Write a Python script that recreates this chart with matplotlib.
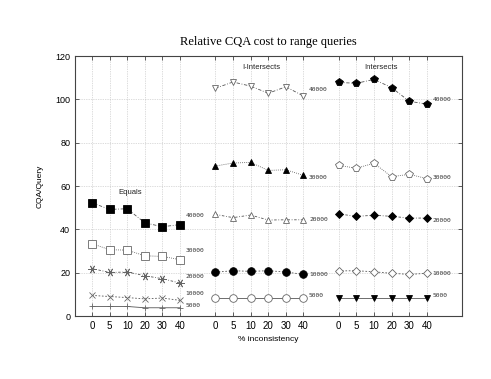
import matplotlib
matplotlib.use("Agg")
import matplotlib.pyplot as plt
import numpy as np

pct_labels = ["0", "5", "10", "20", "30", "40"]
groups = ["Equals", "I-Intersects", "Intersects"]
sizes = ["40000", "30000", "20000", "10000", "5000"]

equals = {
    "40000": [52.3, 49.2, 49.5, 43.0, 41.2, 42.2],
    "30000": [33.4, 30.6, 30.4, 27.8, 27.5, 26.0],
    "20000": [21.9, 20.1, 20.3, 18.6, 17.2, 15.2],
    "10000": [9.5, 9.0, 8.5, 7.9, 8.3, 7.2],
    "5000": [4.4, 4.4, 4.4, 3.8, 3.8, 3.8],
}
i_intersects = {
    "40000": [105.1, 108.0, 106.1, 102.8, 105.8, 101.5],
    "30000": [69.2, 70.6, 70.9, 67.2, 67.5, 64.9],
    "20000": [46.9, 45.4, 46.6, 44.3, 44.4, 44.4],
    "10000": [20.2, 20.9, 20.6, 20.9, 20.3, 19.2],
    "5000": [8.5, 8.5, 8.5, 8.5, 8.5, 8.5],
}
intersects = {
    "40000": [107.8, 107.4, 109.2, 105.4, 99.1, 97.8],
    "30000": [69.5, 68.2, 70.5, 64.3, 65.4, 63.4],
    "20000": [47.1, 46.0, 46.5, 46.0, 45.2, 45.2],
    "10000": [20.8, 20.9, 20.4, 19.7, 19.2, 19.7],
    "5000": [8.5, 8.5, 8.5, 8.5, 8.5, 8.5],
}
group_data = [equals, i_intersects, intersects]

# marker styles per group/series: (marker, filled)
styles = [
    {"40000": ("s", True), "30000": ("s", False), "20000": ((6, 2, 90), False),
     "10000": ("x", False), "5000": ("+", False)},
    {"40000": ("v", False), "30000": ("^", True), "20000": ("^", False),
     "10000": ("o", True), "5000": ("o", False)},
    {"40000": ("p", True), "30000": ("p", False), "20000": ("D", True),
     "10000": ("D", False), "5000": ("v", True)},
]
dashes = {"40000": (4, 2, 1, 2), "30000": (1, 1.5), "20000": (3, 2, 1, 2),
          "10000": (2, 2), "5000": (None)}
label_off = [
    {"40000": 4, "30000": 4, "20000": 3, "10000": 3, "5000": 1},
    {"40000": 3, "30000": -1, "20000": 0, "10000": 0, "5000": 1},
    {"40000": 2, "30000": 0.5, "20000": -1, "10000": 0, "5000": 1},
]
group_title_pos = [(2.15, 57), (9.6, 114.8), (16.4, 114.8)]

fig = plt.figure(figsize=(4.91, 3.79), dpi=100)
ax = fig.add_axes([75/491, 1-316/379, (462-75)/491, (316-56)/379])

xticks = []
xticklabels = []
for g, (data, sty) in enumerate(zip(group_data, styles)):
    xs = np.arange(6) + 7 * g
    xticks.extend(xs)
    xticklabels.extend(pct_labels)
    for s in sizes:
        m, filled = sty[s]
        ys = data[s]
        ms = 5.5 if m in ("s", "p", "o") else 5
        if m == "D":
            ms = 3.8
        if isinstance(m, tuple):
            ms = 6
        if s == "5000" and g == 0:
            ms = 4
        line, = ax.plot(xs, ys, color="#555555", lw=0.6,
                        marker=m, markersize=ms,
                        markerfacecolor="black" if filled else "white",
                        markeredgecolor="black" if filled else "#666666",
                        markeredgewidth=0.6, zorder=3)
        if dashes[s] is not None:
            line.set_dashes(dashes[s])
        ax.annotate(s, (xs[-1], ys[-1] + label_off[g][s]), xytext=(4, 0),
                    textcoords="offset points", fontsize=4.5,
                    family="DejaVu Sans Mono", color="#333333",
                    va="center", ha="left")
    tx, ty = group_title_pos[g]
    ax.text(tx, ty, groups[g], fontsize=5.5, family="Liberation Sans",
            ha="center", va="center", color="#222222")

ax.set_xlim(-0.96, 20.99)
ax.set_ylim(0, 120)
ax.set_xticks(xticks)
ax.set_xticklabels(xticklabels, fontsize=7, family="Liberation Sans")
ax.set_yticks(np.arange(0, 121, 20))
ax.set_yticklabels([str(v) for v in range(0, 121, 20)], fontsize=6.5,
                   family="Liberation Sans")
ax.tick_params(direction="in", top=True, right=True, length=3, width=0.6,
               color="#444444")
ax.grid(True, linestyle=(0, (1, 1.5)), color="#bbbbbb", lw=0.5)
for sp in ax.spines.values():
    sp.set_color("#444444")
    sp.set_linewidth(0.8)
ax.set_xlabel("% inconsistency", fontsize=6, family="Liberation Sans", labelpad=4)
ax.set_ylabel("CQA/Query", fontsize=6, family="Liberation Sans", labelpad=8)
ax.set_title("Relative CQA cost to range queries", fontsize=9,
             family="Liberation Serif", pad=8)

fig.savefig("out.png", dpi=100)
